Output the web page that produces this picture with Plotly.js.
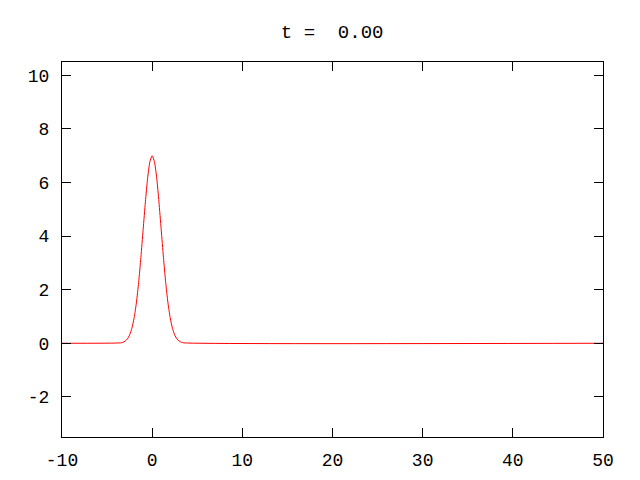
<!DOCTYPE html>
<html>
<head>
<meta charset="utf-8">
<script src="https://cdn.plot.ly/plotly-3.0.1.min.js"></script>
<style>html,body{margin:0;padding:0;background:#fff;}#plot{width:640px;height:480px;}</style>
</head>
<body>
<div id="plot"></div>
<script>
// values
const xValues = [-10, -3.5, -3.25, -3.0, -2.75, -2.5, -2.25, -2.0, -1.75, -1.5, -1.25, -1.0, -0.75, -0.5, -0.25, 0,
                 0.25, 0.5, 0.75, 1.0, 1.25, 1.5, 1.75, 2.0, 2.25, 2.5, 2.75, 3.0, 3.25, 3.5, 50];
const uValues = [0, 0.015, 0.035, 0.08, 0.16, 0.31, 0.56, 0.95, 1.51, 2.27, 3.21, 4.25, 5.28, 6.18, 6.78, 7.0,
                 6.78, 6.18, 5.28, 4.25, 3.21, 2.27, 1.51, 0.95, 0.56, 0.31, 0.16, 0.08, 0.035, 0.015, 0];
const titleText = "t =  0.00";
const xTicks = [-10, 0, 10, 20, 30, 40, 50];
const yTicks = [-2, 0, 2, 4, 6, 8, 10];

const fontFam = "Liberation Mono, DejaVu Sans Mono, monospace";
const axisCommon = {
  showgrid: false, zeroline: false, showline: true, mirror: 'ticks',
  linecolor: '#000', linewidth: 1, ticks: 'inside', ticklen: 9, tickwidth: 1, tickcolor: '#000',
  tickfont: {family: fontFam, size: 18, color: '#000'}, tickmode: 'array'
};
const data = [{
  x: xValues, y: uValues, type: 'scatter', mode: 'lines',
  line: {color: '#ff0000', width: 1, shape: 'spline', smoothing: 0.6}, hoverinfo: 'none'
}];
const layout = {
  width: 640, height: 480,
  margin: {l: 62, r: 37, t: 62, b: 43, pad: 0},
  paper_bgcolor: '#fff', plot_bgcolor: '#fff',
  showlegend: false,
  title: {text: titleText, font: {family: fontFam, size: 19, color: '#000'},
          x: 0.519, xanchor: 'center', y: 0.935, yanchor: 'middle', yref: 'container'},
  xaxis: Object.assign({}, axisCommon, {range: [-10, 50], tickvals: xTicks, ticktext: xTicks.map(String), ticklabelstandoff: 6}),
  yaxis: Object.assign({}, axisCommon, {range: [-3.5, 10.5], tickvals: yTicks, ticktext: yTicks.map(String), ticklabelstandoff: 8})
};
Plotly.newPlot('plot', data, layout, {staticPlot: true, displayModeBar: false});
</script>
</body>
</html>
